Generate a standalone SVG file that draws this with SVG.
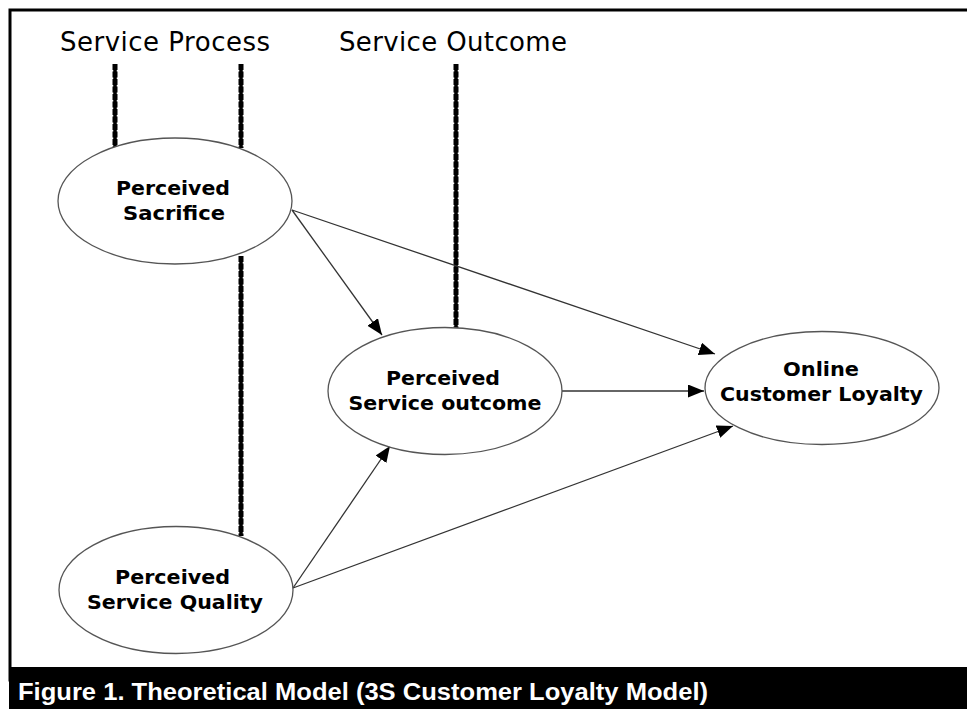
<svg xmlns="http://www.w3.org/2000/svg" width="967" height="709" viewBox="0 0 967 709">
<defs>
<style>
.node ellipse{fill:#fff;stroke:#555;stroke-width:1.3}
.lbl{font-family:"DejaVu Sans",Verdana,sans-serif;font-weight:bold;font-size:20px;fill:#000;text-anchor:middle}
.hdr{font-family:"DejaVu Sans",Verdana,sans-serif;font-size:26px;fill:#000}
.cap{font-family:"Liberation Sans",Arial,sans-serif;font-weight:bold;font-size:24px;fill:#fff}
.edge{stroke:#333;stroke-width:1.3;fill:none;marker-end:url(#ah)}
.bnd1{stroke:#000;stroke-width:3.5;fill:none}
.bnd2{stroke:#000;stroke-width:5;fill:none;stroke-dasharray:6 1.5}
</style>
<marker id="ah" markerUnits="userSpaceOnUse" markerWidth="18" markerHeight="14" refX="16" refY="6.5" orient="auto">
<path d="M0,0 L16,6.5 L0,13 Z" fill="#000"/>
</marker>
</defs>
<rect x="0" y="0" width="967" height="709" fill="#fff"/>
<rect x="10" y="10" width="970" height="670" fill="none" stroke="#000" stroke-width="3"/>
<rect x="9" y="667" width="958" height="42" fill="#000"/>
<text class="cap" x="18" y="700" textLength="690" lengthAdjust="spacingAndGlyphs">Figure 1. Theoretical Model (3S Customer Loyalty Model)</text>

<text class="hdr" x="60" y="51" textLength="210">Service Process</text>
<text class="hdr" x="339" y="51" textLength="228">Service Outcome</text>

<g id="boundaries">
<path class="bnd1" d="M115,64 V147 M241,64 V148 M241,256 V536 M456,64 V329"/>
<path class="bnd2" d="M115,64 V147 M241,64 V148 M241,256 V536 M456,64 V329"/>
</g>

<g id="connectors">
<line class="edge" x1="292" y1="210" x2="382" y2="335"/>
<line class="edge" x1="292" y1="210" x2="715" y2="354"/>
<line class="edge" x1="562" y1="391" x2="704" y2="391"/>
<line class="edge" x1="293" y1="588" x2="390" y2="446"/>
<line class="edge" x1="293" y1="588" x2="733" y2="426"/>
</g>

<g id="perceived-sacrifice" class="node">
<ellipse cx="175" cy="201" rx="117" ry="63"/>
<text class="lbl" x="173" y="195" textLength="114" lengthAdjust="spacingAndGlyphs">Perceived</text>
<text class="lbl" x="174" y="220" textLength="102" lengthAdjust="spacingAndGlyphs">Sacrifice</text>
</g>
<g id="perceived-service-outcome" class="node">
<ellipse cx="445" cy="391" rx="117" ry="63.5"/>
<text class="lbl" x="443" y="385" textLength="114" lengthAdjust="spacingAndGlyphs">Perceived</text>
<text class="lbl" x="445" y="410" textLength="193" lengthAdjust="spacingAndGlyphs">Service outcome</text>
</g>
<g id="online-customer-loyalty" class="node">
<ellipse cx="822" cy="388" rx="117" ry="56.5"/>
<text class="lbl" x="821" y="376" textLength="76" lengthAdjust="spacingAndGlyphs">Online</text>
<text class="lbl" x="821.5" y="401" textLength="203" lengthAdjust="spacingAndGlyphs">Customer Loyalty</text>
</g>
<g id="perceived-service-quality" class="node">
<ellipse cx="176" cy="590" rx="117" ry="63.5"/>
<text class="lbl" x="172.5" y="584" textLength="115" lengthAdjust="spacingAndGlyphs">Perceived</text>
<text class="lbl" x="175" y="609" textLength="176" lengthAdjust="spacingAndGlyphs">Service Quality</text>
</g>
</svg>
